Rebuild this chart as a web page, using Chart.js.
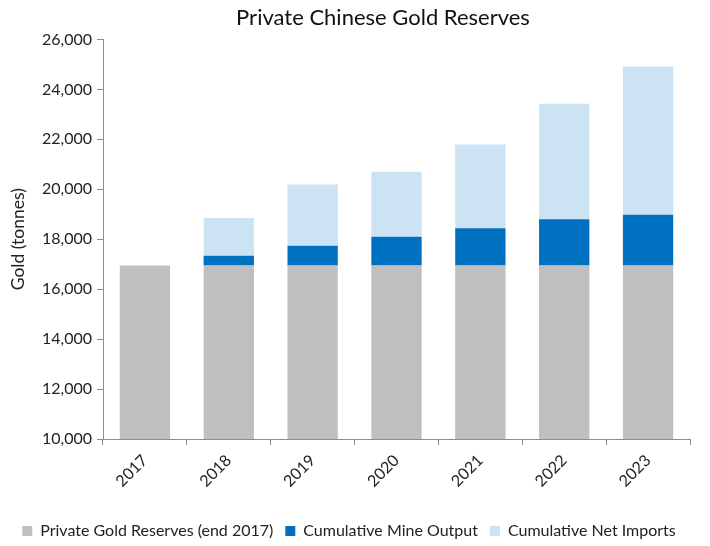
<!DOCTYPE html>
<html>
<head>
<meta charset="utf-8">
<script src="https://cdn.jsdelivr.net/npm/chart.js@4"></script>
<style>
  html, body { margin: 0; padding: 0; background: #fff; }
  #wrap { width: 710px; height: 546px; }
</style>
</head>
<body>
<div id="wrap"><canvas id="goldChart"></canvas></div>
<script>
var years = ['2017', '2018', '2019', '2020', '2021', '2022', '2023'];
var reserves2017 = [16950, 16950, 16950, 16950, 16950, 16950, 16950];
var mineOutput = [0, 390, 790, 1150, 1485, 1845, 2030];
var netImports = [0, 1510, 2450, 2605, 3355, 4625, 5935];

var TITLE = 'Private Chinese Gold Reserves';
var FONT = 'Lato, "Open Sans", sans-serif';
var AXIS = '#8c8c8c';

Chart.defaults.font.family = FONT;
Chart.defaults.color = '#222';

// title sits a little right of the canvas centre, so draw it by hand
var offsetTitle = {
	id: 'offsetTitle',
	afterDraw: function (chart) {
		var ctx = chart.ctx;
		ctx.save();
		ctx.font = '22px ' + FONT;
		ctx.fillStyle = '#111';
		ctx.textAlign = 'center';
		ctx.textBaseline = 'middle';
		ctx.fillText(TITLE, 383, 18);
		ctx.restore();
	}
};

new Chart('goldChart', {
	type: 'bar',
	data: {
		labels: years,
		datasets: [{
			label: 'Private Gold Reserves (end 2017)',
			data: reserves2017,
			backgroundColor: '#bfbfbf'
		}, {
			label: 'Cumulative Mine Output',
			data: mineOutput,
			backgroundColor: '#0070c0'
		}, {
			label: 'Cumulative Net Imports',
			data: netImports,
			backgroundColor: '#cce3f4'
		}]
	},
	plugins: [offsetTitle],
	options: {
		responsive: true,
		maintainAspectRatio: false,
		animation: false,
		layout: {
			padding: { left: 8, right: 20, top: 0, bottom: -3 }
		},
		datasets: {
			bar: {
				barPercentage: 0.6,
				categoryPercentage: 1,
				borderWidth: 0
			}
		},
		plugins: {
			title: {
				display: true,
				text: TITLE,
				font: { size: 22, weight: 'normal' },
				color: 'rgba(0,0,0,0)',
				padding: { top: 4, bottom: 9 }
			},
			legend: {
				position: 'bottom',
				labels: {
					boxWidth: 10,
					boxHeight: 10,
					padding: 12,
					font: { size: 16 },
					color: '#222'
				}
			},
			tooltip: { enabled: false }
		},
		scales: {
			x: {
				stacked: true,
				grid: {
					drawOnChartArea: false,
					drawTicks: true,
					tickLength: 6,
					color: AXIS
				},
				border: { color: AXIS },
				ticks: {
					minRotation: 45,
					maxRotation: 45,
					padding: 6,
					font: { size: 16 },
					color: '#222'
				},
				afterFit: function (scale) {
					scale.height = 72;
				}
			},
			y: {
				stacked: true,
				min: 10000,
				max: 26000,
				grid: {
					drawOnChartArea: false,
					drawTicks: true,
					tickLength: 6,
					color: AXIS
				},
				border: { color: AXIS },
				ticks: {
					stepSize: 2000,
					padding: 5,
					font: { size: 16 },
					color: '#222',
					callback: function (v) {
						return v.toLocaleString('en-US');
					}
				},
				title: {
					display: true,
					text: 'Gold (tonnes)',
					font: { size: 17.5 },
					color: '#222',
					padding: { top: 0, bottom: 2 }
				},
				afterFit: function (scale) {
					scale.width = 95;
				}
			}
		}
	}
});
</script>
</body>
</html>
